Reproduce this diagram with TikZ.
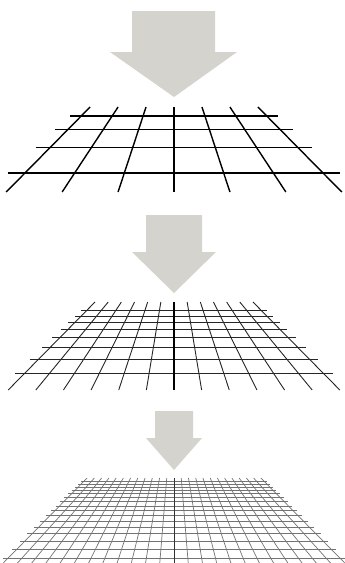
\documentclass[tikz,border=0pt]{standalone}
\usepackage{tikz}
\definecolor{arrowgrey}{HTML}{D5D3CD}

\begin{document}
\begin{tikzpicture}[x=1pt, y=-1pt,
  blockarrow/.style={fill=arrowgrey},
  coarse/.style={draw=black, line width=1.4pt},
  medium/.style={draw=black!85, line width=0.9pt},
  fine/.style={draw=black!55, line width=0.7pt},
  axisline/.style={draw=black!80}]
  \useasboundingbox (0,0) rectangle (345,563);
  \clip (0,0) rectangle (345,563);

  % arrows
  \fill[blockarrow] (132,11) -- (215,11) -- (215,52) -- (237,52) -- (174,97) -- (110,52) -- (132,52) -- cycle;
  \fill[blockarrow] (146,215) -- (202,215) -- (202,252) -- (216,252) -- (174,293) -- (132,252) -- (146,252) -- cycle;
  \fill[blockarrow] (155,411) -- (193,411) -- (193,438) -- (202,438) -- (174,470) -- (146,438) -- (155,438) -- cycle;

  % grid 1: coarse
  \begin{scope}[shift={(174,22)}]
    \foreach \i in {0,...,3}{
      \pgfmathsetmacro\s{1000/(10.638-1.338*\i)}
      \draw[coarse] (-0.329*3.35*\s,\s) -- (0.329*3.35*\s,\s);
    }
    \foreach \i in {-3,...,3}
      \draw[coarse] (0.329*\i*85,85) -- (0.329*\i*170,170);
  \end{scope}

  % grid 2: medium
  \begin{scope}[shift={(174,222)}]
    \foreach \i in {0,...,7}{
      \pgfmathsetmacro\s{1000/(10.638-1.338*(-0.5+0.5*\i))}
      \draw[medium] (-0.329*3.2*\s,\s) -- (0.329*3.2*\s,\s);
    }
    \foreach \i in {-6,...,6}
      \draw[medium] (0.329*\i*0.5*80,80) -- (0.329*\i*0.5*168,168);
    \draw[medium, line width=1.1pt, draw=black] (0,80) -- (0,168);
  \end{scope}

  % grid 3: fine
  \begin{scope}[shift={(174,390)}]
    \foreach \i in {0,...,15}{
      \pgfmathsetmacro\s{1000/(10.638-1.338*(-0.25+0.25*\i))}
      \draw[fine] (-0.329*3.1*\s,\s) -- (0.329*3.1*\s,\s);
    }
    \foreach \i in {-12,...,12}
      \draw[fine] (0.329*\i*0.25*88,88) -- (0.329*\i*0.25*180,180);
    \draw[fine, axisline] (0,88) -- (0,180);
  \end{scope}
\end{tikzpicture}
\end{document}
